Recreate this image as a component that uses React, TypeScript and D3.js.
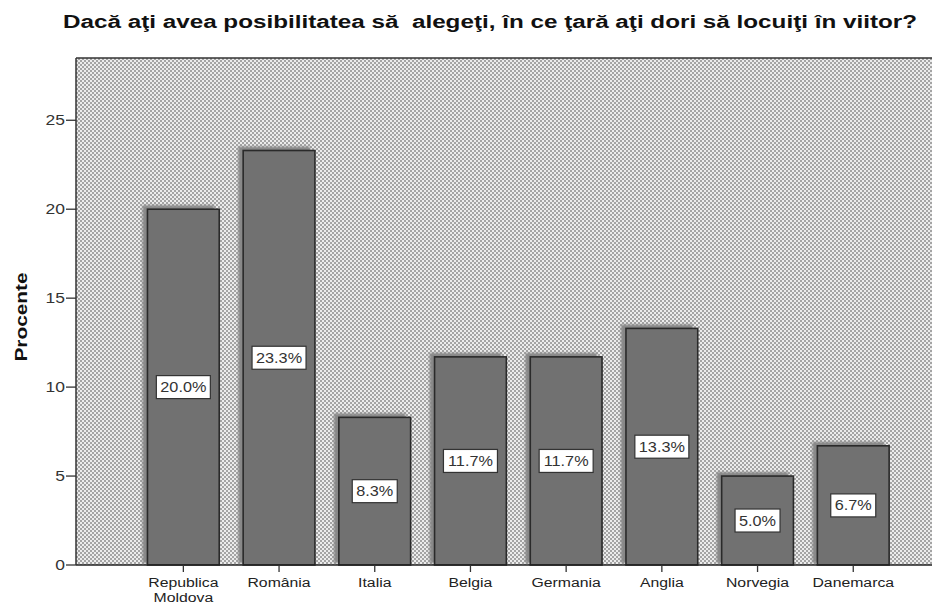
import React from "react";
import * as d3 from "d3";

const title = "Dacă aţi avea posibilitatea să  alegeţi, în ce ţară aţi dori să locuiţi în viitor?";
const categories = ["Republica Moldova", "România", "Italia", "Belgia", "Germania", "Anglia", "Norvegia", "Danemarca"];
const values = [20.0, 23.3, 8.3, 11.7, 11.7, 13.3, 5.0, 6.7];
const yTicks = [0, 5, 10, 15, 20, 25];
const yLabel = "Procente";

const W = 932, H = 604;
const plotLeft = 76, plotTop = 58, plotRight = 932, plotBottom = 565;
const font = "Arial, 'Liberation Sans', sans-serif";

function SText(props: { x: number; y: number; sx: number; anchor?: string; size: number; fill?: string; bold?: boolean; children: React.ReactNode }) {
  return (
    <text
      transform={`translate(${props.x},${props.y}) scale(${props.sx},1)`}
      textAnchor={props.anchor || "middle"}
      fontFamily={font}
      fontSize={props.size}
      fontWeight={props.bold ? "bold" : "normal"}
      fill={props.fill || "#222"}
    >
      {props.children}
    </text>
  );
}

export default function App() {
  const x = d3.scaleBand<string>().domain(categories).range([135.5, 901.1]).paddingInner(0.25).paddingOuter(0.125);
  const y = d3.scaleLinear().domain([0, 28.5]).range([plotBottom, plotTop]);
  const bw = x.bandwidth();
  return (
    <div style={{ position: "fixed", left: 0, top: 0 }}>
      <svg width={W} height={H} style={{ display: "block", background: "#fff" }}>
        <defs>
          <pattern id="dots" width="4" height="4" patternUnits="userSpaceOnUse">
            <rect width="4" height="4" fill="#ececec" />
            <rect x="0" y="0" width="2" height="2" fill="#a4a4a4" />
            <rect x="2" y="2" width="2" height="2" fill="#a4a4a4" />
          </pattern>
          <filter id="blur" x="-20%" y="-20%" width="140%" height="140%">
            <feGaussianBlur stdDeviation="1.2" />
          </filter>
        </defs>
        <text x={490} y={28} textAnchor="middle" fontFamily={font} fontWeight="bold" fontSize={18} fill="#111"
          textLength={854} lengthAdjust="spacingAndGlyphs" style={{ whiteSpace: "pre" }}>
          {title}
        </text>
        <rect x={plotLeft} y={plotTop} width={plotRight - plotLeft} height={plotBottom - plotTop} fill="url(#dots)" />
        <line x1={plotLeft} x2={plotRight} y1={plotTop} y2={plotTop} stroke="#333" strokeWidth={1.5} />
        {categories.map((c, i) => {
          const x0 = x(c)!;
          const yt = y(values[i]);
          return (
            <rect key={"s" + c} x={x0 - 5} y={yt - 4} width={bw} height={plotBottom - 2 - (yt - 4)} fill="#888" filter="url(#blur)" />
          );
        })}
        {categories.map((c, i) => {
          const x0 = x(c)!;
          const yt = y(values[i]);
          const label = values[i].toFixed(1) + "%";
          const bwid = label.length * 9 + 9;
          const cy = y(values[i] / 2);
          const cx = x0 + bw / 2;
          return (
            <g key={c}>
              <rect x={x0} y={yt} width={bw} height={plotBottom - yt} fill="#717171" stroke="#2a2a2a" strokeWidth={1.6} />
              <rect x={cx - bwid / 2} y={cy - 11.5} width={bwid} height={23} fill="#fff" stroke="#333" strokeWidth={1.2} />
              <SText x={cx} y={cy + 5} sx={1.16} size={14} fill="#333">{label}</SText>
            </g>
          );
        })}
        <line x1={plotLeft} x2={plotRight} y1={plotBottom} y2={plotBottom} stroke="#222" strokeWidth={1.5} />
        <line x1={plotLeft} x2={plotLeft} y1={plotTop} y2={plotBottom} stroke="#333" strokeWidth={1.5} />
        {yTicks.map((t) => (
          <g key={t}>
            <line x1={plotLeft - 10} x2={plotLeft} y1={y(t)} y2={y(t)} stroke="#333" strokeWidth={1.3} />
            <SText x={plotLeft - 11} y={y(t) + 5} sx={1.25} anchor="end" size={14} fill="#333">{t}</SText>
          </g>
        ))}
        {categories.map((c) => {
          const cx = x(c)! + bw / 2;
          const lines = c === "Republica Moldova" ? ["Republica", "Moldova"] : [c];
          return (
            <g key={"t" + c}>
              <line x1={cx} x2={cx} y1={plotBottom} y2={plotBottom + 7} stroke="#333" strokeWidth={1.3} />
              {lines.map((l, k) => (
                <SText key={k} x={cx} y={plotBottom + 21.5 + k * 15} sx={1.17} size={13.5} fill="#222">{l}</SText>
              ))}
            </g>
          );
        })}
        <text transform={`translate(27,317) rotate(-90)`} textAnchor="middle" fontFamily={font} fontWeight="bold" fontSize={16} fill="#111"
          textLength={89} lengthAdjust="spacingAndGlyphs">{yLabel}</text>
      </svg>
    </div>
  );
}
